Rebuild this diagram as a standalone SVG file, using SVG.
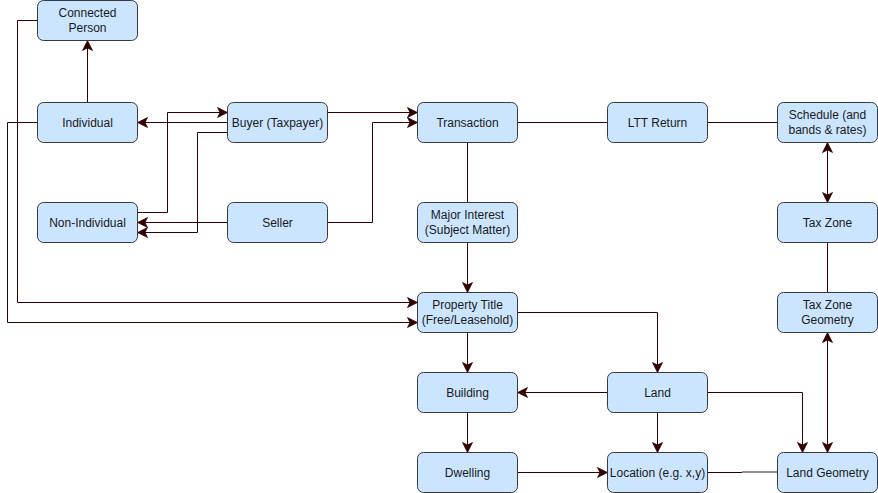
<svg xmlns="http://www.w3.org/2000/svg" width="878" height="493" viewBox="0 0 878 493">
<style>
.n rect{fill:#cce5ff;stroke:#36393d;stroke-width:1}
.n text{font-family:"Liberation Sans",Arial,sans-serif;font-size:12px;fill:#1a1a1a;text-anchor:middle;dominant-baseline:central}
.e path{fill:none;stroke:#330000;stroke-width:1}
</style>
<defs>
<marker id="a" markerUnits="userSpaceOnUse" markerWidth="10" markerHeight="10" refX="7" refY="3.5" orient="auto-start-reverse" viewBox="0 0 7 7" overflow="visible">
<path d="M0,0 L7,3.5 L0,7 L1.75,3.5 z" fill="#330000" stroke="#330000" stroke-width="0.5"/>
</marker>
</defs>
<rect width="878" height="493" fill="#ffffff"/>
<g id="edges" class="e">
<path d="M87.5,102.5 V40.5" marker-end="url(#a)"/>
<path d="M37.5,20.5 H17.5 V302.5 H417.5" marker-end="url(#a)"/>
<path d="M37.5,122.5 H7.5 V322.5 H417.5" marker-end="url(#a)"/>
<path d="M227.5,122.5 H137.5" marker-end="url(#a)"/>
<path d="M137.5,212.5 H167.5 V112.5 H227.5" marker-end="url(#a)"/>
<path d="M227.5,222.5 H137.5" marker-end="url(#a)"/>
<path d="M227.5,132.5 H197.5 V232.5 H137.5" marker-end="url(#a)"/>
<path d="M327.5,112.5 H417.5" marker-end="url(#a)"/>
<path d="M327.5,222.5 H372.5 V122.5 H417.5" marker-end="url(#a)"/>
<path d="M517.5,122.5 H607.5"/>
<path d="M707.5,122.5 H777.5"/>
<path d="M467.5,142.5 V202.5"/>
<path d="M467.5,242.5 V292.5" marker-end="url(#a)"/>
<path d="M827.5,142.5 V202.5" marker-start="url(#a)" marker-end="url(#a)"/>
<path d="M827.5,242.5 V292.5"/>
<path d="M827.5,332.5 V452.5" marker-start="url(#a)" marker-end="url(#a)"/>
<path d="M517.5,312.5 H657.5 V372.5" marker-end="url(#a)"/>
<path d="M467.5,332.5 V372.5" marker-end="url(#a)"/>
<path d="M607.5,392.5 H517.5" marker-end="url(#a)"/>
<path d="M707.5,392.5 H802.5 V452.5" marker-end="url(#a)"/>
<path d="M657.5,412.5 V452.5" marker-end="url(#a)"/>
<path d="M467.5,412.5 V452.5" marker-end="url(#a)"/>
<path d="M517.5,472.5 H607.5" marker-end="url(#a)"/>
<path d="M707.5,472.5 H742"/>
<path d="M742,472 H777.5" style="stroke:#776a6a;stroke-width:1.5"/>
</g>
<g id="connected-person" class="n"><rect x="37.5" y="0.5" width="100" height="40" rx="6"/><text x="87.5" y="13">Connected</text><text x="87.5" y="28">Person</text></g>
<g id="individual" class="n"><rect x="37.5" y="102.5" width="100" height="40" rx="6"/><text x="87.5" y="122.5">Individual</text></g>
<g id="buyer" class="n"><rect x="227.5" y="102.5" width="100" height="40" rx="6"/><text x="277.5" y="122.5">Buyer (Taxpayer)</text></g>
<g id="non-individual" class="n"><rect x="37.5" y="202.5" width="100" height="40" rx="6"/><text x="87.5" y="222.5">Non-Individual</text></g>
<g id="seller" class="n"><rect x="227.5" y="202.5" width="100" height="40" rx="6"/><text x="277.5" y="222.5">Seller</text></g>
<g id="transaction" class="n"><rect x="417.5" y="102.5" width="100" height="40" rx="6"/><text x="467.5" y="122.5">Transaction</text></g>
<g id="ltt-return" class="n"><rect x="607.5" y="102.5" width="100" height="40" rx="6"/><text x="657.5" y="122.5">LTT Return</text></g>
<g id="schedule" class="n"><rect x="777.5" y="102.5" width="100" height="40" rx="6"/><text x="827.5" y="115">Schedule (and</text><text x="827.5" y="130">bands &amp; rates)</text></g>
<g id="major-interest" class="n"><rect x="417.5" y="202.5" width="100" height="40" rx="6"/><text x="467.5" y="215">Major Interest</text><text x="467.5" y="230">(Subject Matter)</text></g>
<g id="tax-zone" class="n"><rect x="777.5" y="202.5" width="100" height="40" rx="6"/><text x="827.5" y="222.5">Tax Zone</text></g>
<g id="property-title" class="n"><rect x="417.5" y="292.5" width="100" height="40" rx="6"/><text x="467.5" y="305">Property Title</text><text x="467.5" y="320">(Free/Leasehold)</text></g>
<g id="tax-zone-geometry" class="n"><rect x="777.5" y="292.5" width="100" height="40" rx="6"/><text x="827.5" y="305">Tax Zone</text><text x="827.5" y="320">Geometry</text></g>
<g id="building" class="n"><rect x="417.5" y="372.5" width="100" height="40" rx="6"/><text x="467.5" y="392.5">Building</text></g>
<g id="land" class="n"><rect x="607.5" y="372.5" width="100" height="40" rx="6"/><text x="657.5" y="392.5">Land</text></g>
<g id="dwelling" class="n"><rect x="417.5" y="452.5" width="100" height="40" rx="6"/><text x="467.5" y="472.5">Dwelling</text></g>
<g id="location" class="n"><rect x="607.5" y="452.5" width="100" height="40" rx="6"/><text x="657.5" y="472.5">Location (e.g. x,y)</text></g>
<g id="land-geometry" class="n"><rect x="777.5" y="452.5" width="100" height="40" rx="6"/><text x="827.5" y="472.5">Land Geometry</text></g>
</svg>
